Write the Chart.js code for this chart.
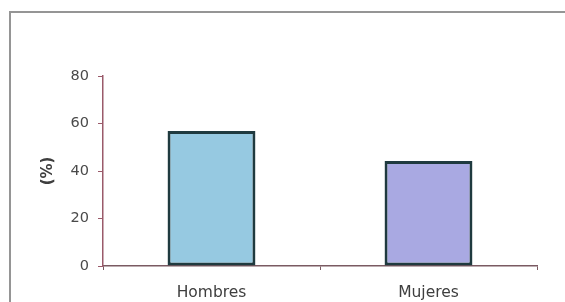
<!DOCTYPE html>
<html>
<head>
<meta charset="utf-8">
<script src="https://cdn.jsdelivr.net/npm/chart.js@4/dist/chart.umd.min.js"></script>
<style>
  html, body { margin: 0; padding: 0; background: #fff; overflow: hidden; }
  canvas { display: block; }
</style>
</head>
<body>
<canvas id="c" width="565" height="302"></canvas>
<script>
const categories = ["Hombres", "Mujeres"];
const values = [56.8, 44.2];
const barColors = ["#96c9e1", "#a9a9e2"];
const yTicks = [0, 20, 40, 60, 80];
const yTitle = "(%)";

const framePlugin = {
  id: 'frame',
  beforeDraw(chart) {
    const ctx = chart.ctx;
    ctx.save();
    ctx.lineWidth = 2;
    ctx.strokeStyle = '#959595';
    ctx.beginPath();
    ctx.moveTo(10, chart.height);
    ctx.lineTo(10, 12);
    ctx.lineTo(chart.width, 12);
    ctx.stroke();
    ctx.restore();
  }
};

new Chart(document.getElementById('c'), {
  type: 'bar',
  data: {
    labels: categories,
    datasets: [{
      data: values,
      backgroundColor: barColors,
      borderColor: '#1f3a3f',
      borderWidth: 3,
      borderSkipped: false,
      categoryPercentage: 1,
      barPercentage: 0.405
    }]
  },
  plugins: [framePlugin],
  options: {
    responsive: false,
    animation: false,
    devicePixelRatio: 1,
    layout: { padding: { left: 9, right: 28, top: 76, bottom: 0 } },
    plugins: { legend: { display: false }, tooltip: { enabled: false } },
    scales: {
      x: {
        grid: { drawOnChartArea: false, drawTicks: true, tickLength: 4, color: '#7a5a62' },
        border: { color: '#7a5a62', width: 1.5 },
        ticks: { color: '#3e3e3e', padding: 14, font: { family: 'DejaVu Sans', size: 15.5 } },
        afterFit: s => { s.height = 36; }
      },
      y: {
        min: 0, max: 80,
        afterBuildTicks: s => { s.ticks = yTicks.map(v => ({ value: v })); },
        grid: { drawOnChartArea: false, drawTicks: true, tickLength: 5, color: '#9a5a6a' },
        border: { color: '#9a5a6a', width: 1.5 },
        ticks: { color: '#4a4a4a', padding: 9, font: { family: 'DejaVu Sans', size: 14.5 } },
        title: { display: true, text: yTitle, color: '#3e3e3e', padding: { top: 30, bottom: 0 },
                 font: { family: 'DejaVu Sans', size: 15, weight: 'bold' } },
        afterFit: s => { s.width = 94; }
      }
    }
  }
});
</script>
</body>
</html>
